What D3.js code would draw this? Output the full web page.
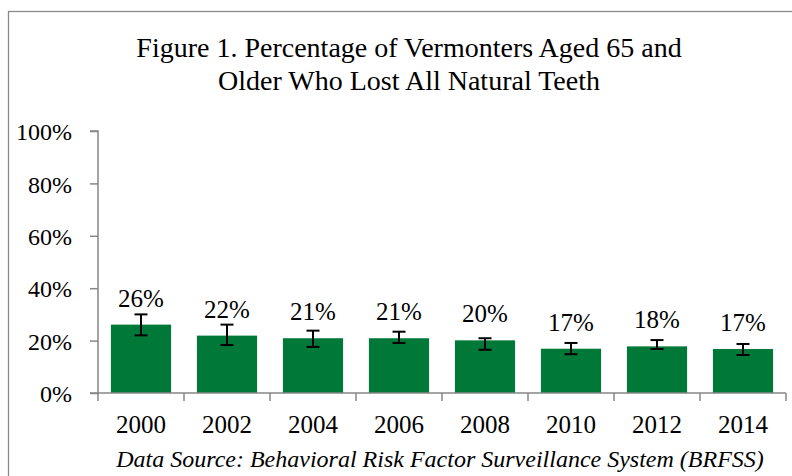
<!DOCTYPE html>
<html>
<head>
<meta charset="utf-8">
<script src="https://cdn.jsdelivr.net/npm/d3@7"></script>
<style>
  body { margin: 0; background: #fff; }
  svg { display: block; font-family: "Liberation Serif", "Times New Roman", serif; }
  .axis path, .axis line { stroke: #878787; stroke-width: 1.5px; }
  .axis text { fill: #000; font-size: 25px; font-family: "Liberation Serif", serif; }
  .y.axis text { font-size: 24px; }
</style>
</head>
<body>
<script>
// data
const years = ['2000', '2002', '2004', '2006', '2008', '2010', '2012', '2014'];
const pct = [26.1, 21.9, 20.9, 20.9, 20.1, 16.9, 17.8, 16.8];
const ciLow = [22.0, 18.3, 17.6, 19.1, 16.5, 14.8, 16.8, 14.5];
const ciHigh = [30.0, 26.1, 23.8, 23.4, 20.9, 19.1, 20.2, 18.7];
const yTicks = [0, 20, 40, 60, 80, 100];
const titleLines = ['Figure 1. Percentage of Vermonters Aged 65 and', 'Older Who Lost All Natural Teeth'];
const source = 'Data Source: Behavioral Risk Factor Surveillance System (BRFSS)';

const W = 792, H = 476;
const margin = {top: 131, right: 6, bottom: 83, left: 98};
const width = W - margin.left - margin.right,
      height = H - margin.top - margin.bottom;

const rows = years.map(function(y, i) {
    return {year: y, value: pct[i], lo: ciLow[i], hi: ciHigh[i]};
});

const root = d3.select('body').append('svg')
    .attr('width', W)
    .attr('height', H);

// outer frame (runs off the right / bottom edge)
root.append('rect')
    .attr('x', 8.5).attr('y', 11.5)
    .attr('width', W).attr('height', H)
    .attr('fill', 'none')
    .attr('stroke', '#8a8a8a')
    .attr('stroke-width', 1.3);

root.selectAll('text.title')
    .data(titleLines)
    .enter().append('text')
    .attr('class', 'title')
    .attr('x', 409)
    .attr('y', function(d, i) { return 57 + i * 32.5; })
    .attr('text-anchor', 'middle')
    .attr('font-size', '28px')
    .text(function(d) { return d; });

const svg = root.append('g')
    .attr('transform', 'translate(' + margin.left + ',' + margin.top + ')');

const xScale = d3.scaleBand()
    .domain(years)
    .range([0, width])
    .paddingInner(0.3)
    .paddingOuter(0.15);

const yScale = d3.scaleLinear()
    .domain([0, 100])
    .range([height, 0]);

const xBand = d3.scaleBand().domain(years).range([0, width]); // for tick positions

svg.append('g')
    .attr('class', 'y axis')
    .call(d3.axisLeft(yScale)
        .tickValues(yTicks)
        .tickSize(8)
        .tickPadding(18)
        .tickFormat(function(d) { return d + '%'; }))
    .call(function(g) { g.select('.domain').attr('d', 'M-8,' + height + 'H0V0H-8'); })
    .selectAll('text').attr('dy', '0.36em');

// bars
svg.selectAll('rect.bar')
    .data(rows)
    .enter().append('rect')
    .attr('class', 'bar')
    .attr('x', function(d) { return xScale(d.year); })
    .attr('width', xScale.bandwidth())
    .attr('y', function(d) { return yScale(d.value); })
    .attr('height', function(d) { return height - yScale(d.value); })
    .attr('fill', '#007838');

// x axis drawn over the bar bottoms
const xAxis = svg.append('g')
    .attr('class', 'x axis')
    .attr('transform', 'translate(0,' + height + ')');
xAxis.append('path')
    .attr('d', 'M0,0H' + width);
xAxis.selectAll('line')
    .data(years.concat(['end']))
    .enter().append('line')
    .attr('x1', function(d, i) { return i * xBand.step(); })
    .attr('x2', function(d, i) { return i * xBand.step(); })
    .attr('y1', 0).attr('y2', 8);
xAxis.selectAll('text')
    .data(years)
    .enter().append('text')
    .attr('x', function(d) { return xBand(d) + xBand.bandwidth() / 2; })
    .attr('y', 40)
    .attr('text-anchor', 'middle')
    .text(function(d) { return d; });

// error bars
const err = svg.selectAll('g.err')
    .data(rows)
    .enter().append('g')
    .attr('class', 'err')
    .attr('transform', function(d) {
        return 'translate(' + (xScale(d.year) + xScale.bandwidth() / 2) + ',0)';
    })
    .attr('stroke', '#000')
    .attr('stroke-width', 2);
err.append('line')
    .attr('y1', function(d) { return yScale(d.hi); })
    .attr('y2', function(d) { return yScale(d.lo); });
err.append('line')
    .attr('x1', -6.5).attr('x2', 6.5)
    .attr('y1', function(d) { return yScale(d.hi); })
    .attr('y2', function(d) { return yScale(d.hi); });
err.append('line')
    .attr('x1', -6.5).attr('x2', 6.5)
    .attr('y1', function(d) { return yScale(d.lo); })
    .attr('y2', function(d) { return yScale(d.lo); });

// value labels
svg.selectAll('text.val')
    .data(rows)
    .enter().append('text')
    .attr('class', 'val')
    .attr('x', function(d) { return xScale(d.year) + xScale.bandwidth() / 2; })
    .attr('y', function(d) { return yScale(d.value) - 18; })
    .attr('text-anchor', 'middle')
    .attr('font-size', '25px')
    .text(function(d) { return Math.round(d.value) + '%'; });

root.append('text')
    .attr('x', 440)
    .attr('y', 467)
    .attr('text-anchor', 'middle')
    .attr('font-size', '24px')
    .attr('font-style', 'italic')
    .text(source);
</script>
</body>
</html>
